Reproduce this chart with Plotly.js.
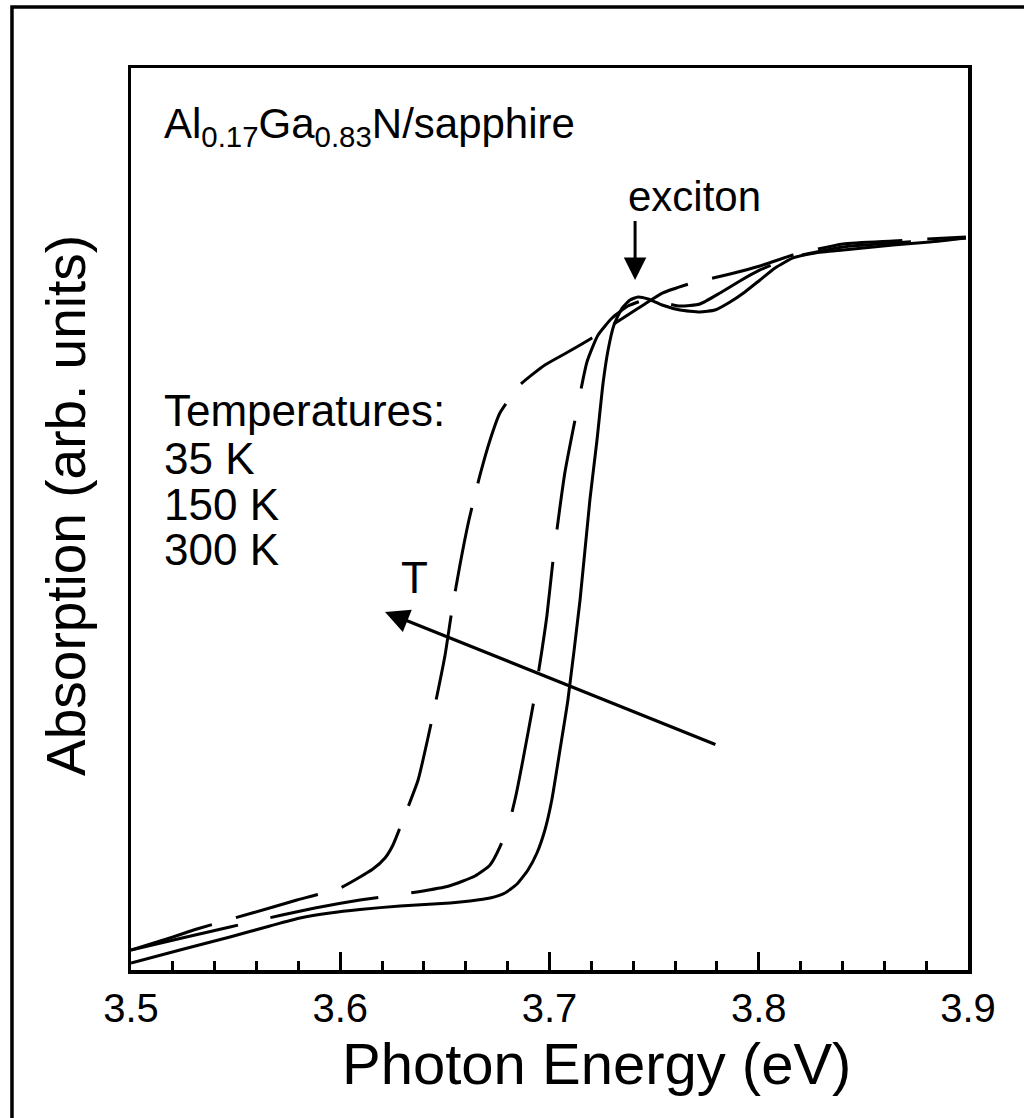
<!DOCTYPE html>
<html>
<head>
<meta charset="utf-8">
<script src="https://cdn.plot.ly/plotly-3.0.1.min.js"></script>
<style>
  html, body { margin: 0; padding: 0; background: #ffffff; }
  #chart { width: 1024px; height: 1118px; }
</style>
</head>
<body>
<div id="chart"></div>
<script>
// Absorption edge of Al0.17Ga0.83N on sapphire at three temperatures
const energy35 = [3.5000, 3.5234, 3.5473, 3.5664, 3.5808, 3.5951, 3.6094, 3.6286, 3.6525, 3.6620,
  3.6716, 3.6787, 3.6845, 3.6897, 3.6940, 3.6978, 3.7011, 3.7050, 3.7088, 3.7146, 3.7193, 3.7227,
  3.7256, 3.7280, 3.7308, 3.7347, 3.7385, 3.7423, 3.7471, 3.7538, 3.7624, 3.7719, 3.7791, 3.7863,
  3.7934, 3.8006, 3.8078, 3.8164, 3.8269, 3.8403, 3.8642, 3.8818, 3.8990];
const absorb35 = [0.0078, 0.0222, 0.0366, 0.0488, 0.0576, 0.0632, 0.0671, 0.0710, 0.0743, 0.0765,
  0.0798, 0.0854, 0.0954, 0.1109, 0.1297, 0.1552, 0.1885, 0.2439, 0.2993, 0.4102, 0.5211, 0.5876,
  0.6508, 0.6874, 0.7151, 0.7339, 0.7428, 0.7461, 0.7439, 0.7373, 0.7317, 0.7295, 0.7317, 0.7406,
  0.7517, 0.7650, 0.7783, 0.7894, 0.7949, 0.7982, 0.8038, 0.8071, 0.8115];

const energy150 = [3.5000, 3.5244, 3.5473, 3.5722, 3.5879, 3.6094, 3.6367, 3.6520, 3.6644, 3.6716,
  3.6763, 3.6811, 3.6840, 3.6873, 3.6926, 3.6964, 3.6988, 3.7017, 3.7050, 3.7074, 3.7122, 3.7179,
  3.7232, 3.7299, 3.7375, 3.7456, 3.7528, 3.7624, 3.7719, 3.7815, 3.7910, 3.8006, 3.8149, 3.8403,
  3.8642, 3.8990];
const absorb150 = [0.0222, 0.0355, 0.0477, 0.0610, 0.0687, 0.0776, 0.0865, 0.0931, 0.1042, 0.1164,
  0.1364, 0.1663, 0.1940, 0.2328, 0.2993, 0.3548, 0.3936, 0.4545, 0.5133, 0.5521, 0.6098, 0.6741,
  0.7040, 0.7228, 0.7361, 0.7428, 0.7406, 0.7361, 0.7384, 0.7506, 0.7639, 0.7761, 0.7894, 0.8016,
  0.8060, 0.8115];

const energy300 = [3.5000, 3.5201, 3.5315, 3.5497, 3.5679, 3.5793, 3.5999, 3.6156, 3.6214, 3.6252,
  3.6309, 3.6372, 3.6419, 3.6458, 3.6501, 3.6534, 3.6572, 3.6615, 3.6668, 3.6716, 3.6763, 3.6859,
  3.6978, 3.7088, 3.7203, 3.7337, 3.7456, 3.7542, 3.7681, 3.7863, 3.8006, 3.8164, 3.8403, 3.8642,
  3.8990];
const absorb300 = [0.0222, 0.0366, 0.0455, 0.0577, 0.0698, 0.0776, 0.0909, 0.1120, 0.1242, 0.1386,
  0.1718, 0.2106, 0.2572, 0.2993, 0.3492, 0.3991, 0.4490, 0.4989, 0.5488, 0.5876, 0.6175, 0.6486,
  0.6707, 0.6851, 0.7007, 0.7206, 0.7384, 0.7506, 0.7616, 0.7716, 0.7805, 0.7927, 0.8049, 0.8082,
  0.8126];

const xTickVals = [3.5, 3.6, 3.7, 3.8, 3.9];
const xTickText = ['3.5', '3.6', '3.7', '3.8', '3.9'];
const tempLabels = ['Temperatures:', '35 K', '150 K', '300 K'];

const FONT = 'Arial, "Liberation Sans", sans-serif';
const INK = '#000000';

const traces = [
  { x: energy35, y: absorb35, name: '35 K', mode: 'lines',
    line: { color: INK, width: 3, shape: 'spline', smoothing: 0.5 } },
  { x: energy150, y: absorb150, name: '150 K', mode: 'lines',
    line: { color: INK, width: 3, dash: '110px,33px', shape: 'spline', smoothing: 0.5 } },
  { x: energy300, y: absorb300, name: '300 K', mode: 'lines',
    line: { color: INK, width: 3, dash: '85px,25px', shape: 'spline', smoothing: 0.5 } }
];

// temperature list, one line per annotation
const tempY = [0.6208, 0.5676, 0.5166, 0.4667];
const annotations = tempLabels.map((t, i) => ({
  x: 3.5150, y: tempY[i], xref: 'x', yref: 'y', text: t, showarrow: false,
  xanchor: 'left', yanchor: 'middle', font: { family: FONT, size: 44, color: INK }
}));

annotations.push(
  { x: 3.5150, y: 0.935, xref: 'x', yref: 'y',
    text: 'Al<sub>0.17</sub>Ga<sub>0.83</sub>N/sapphire', showarrow: false,
    xanchor: 'left', yanchor: 'middle', font: { family: FONT, size: 42, color: INK } },
  { x: 3.7695, y: 0.857, xref: 'x', yref: 'y', text: 'exciton', showarrow: false,
    xanchor: 'center', yanchor: 'middle', font: { family: FONT, size: 42, color: INK } },
  // exciton marker arrow
  { x: 3.7409, y: 0.765, ax: 3.7409, ay: 0.832, xref: 'x', yref: 'y', axref: 'x', ayref: 'y',
    text: '', showarrow: true, arrowhead: 2, arrowsize: 1.5, arrowwidth: 3, arrowcolor: INK },
  // direction of increasing temperature
  { x: 3.6214, y: 0.3969, ax: 3.7800, ay: 0.2494, xref: 'x', yref: 'y', axref: 'x', ayref: 'y',
    text: '', showarrow: true, arrowhead: 2, arrowsize: 1.5, arrowwidth: 3.2, arrowcolor: INK },
  { x: 3.6355, y: 0.435, xref: 'x', yref: 'y', text: 'T', showarrow: false,
    xanchor: 'center', yanchor: 'middle', font: { family: FONT, size: 44, color: INK } },
  // axis titles
  { x: 0.5556, y: -0.1042, xref: 'paper', yref: 'paper', text: 'Photon Energy (eV)',
    showarrow: false, xanchor: 'center', yanchor: 'middle',
    font: { family: FONT, size: 58, color: INK } },
  { x: -0.0777, y: 0.5155, xref: 'paper', yref: 'paper', text: 'Absorption (arb. units)',
    showarrow: false, textangle: -90, xanchor: 'center', yanchor: 'middle',
    font: { family: FONT, size: 55, color: INK } }
);

const layout = {
  width: 1024, height: 1118,
  paper_bgcolor: '#ffffff', plot_bgcolor: '#ffffff',
  margin: { l: 131, r: 56, t: 68, b: 148, pad: 0 },
  showlegend: false,
  font: { family: FONT, color: INK },
  xaxis: {
    range: [3.5, 3.9], tickmode: 'array', tickvals: xTickVals, ticktext: xTickText,
    ticks: 'inside', ticklen: 18, tickwidth: 3, tickcolor: INK,
    minor: { dtick: 0.02, tick0: 3.5, ticks: 'inside', ticklen: 9, tickwidth: 3, tickcolor: INK },
    showline: true, linewidth: 3.5, linecolor: INK, mirror: true,
    showgrid: false, zeroline: false,
    tickfont: { family: FONT, size: 40, color: INK }
  },
  yaxis: {
    range: [0, 1], showticklabels: false, ticks: '',
    showline: true, linewidth: 3.5, linecolor: INK, mirror: true,
    showgrid: false, zeroline: false
  },
  shapes: [
    // outer frame of the figure
    { type: 'rect', xref: 'paper', yref: 'paper', x0: -0.1422, x1: 1.09, y0: -0.2, y1: 1.0676,
      line: { color: INK, width: 3.5 }, fillcolor: 'rgba(0,0,0,0)', layer: 'above' }
  ],
  annotations: annotations
};

Plotly.newPlot('chart', traces, layout, { displayModeBar: false, staticPlot: true });
</script>
</body>
</html>
